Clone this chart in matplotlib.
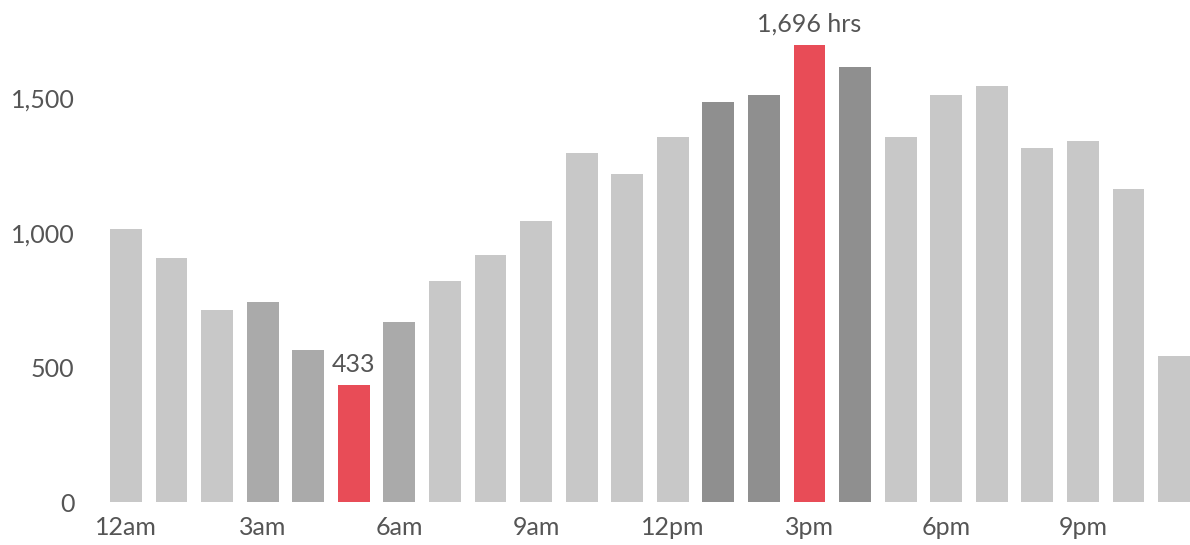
import numpy as np
import matplotlib.pyplot as plt

plt.rcParams['font.family'] = ['Lato', 'DejaVu Sans']

hours = list(range(24))
hrs = [1013, 906, 713, 742, 564, 433, 668, 820, 917, 1043, 1295, 1217,
       1354, 1487, 1510, 1696, 1614, 1354, 1513, 1543, 1313, 1339, 1161, 543]
tick_pos = [0, 3, 6, 9, 12, 15, 18, 21]
tick_labels = ['12am', '3am', '6am', '9am', '12pm', '3pm', '6pm', '9pm']

light = '#c8c8c8'
mid = '#aaaaaa'
dark = '#8f8f8f'
red = '#e84c57'
colors = [light] * 24
for i in (3, 4, 6):
    colors[i] = mid
for i in (13, 14, 16):
    colors[i] = dark
colors[5] = red
colors[15] = red

fig = plt.figure(figsize=(11.9, 5.45), dpi=100)
ax = fig.add_axes([94 / 1190, 1 - 502 / 545, (1190 - 94) / 1190, 471.3 / 545])
ax.bar(hours, hrs, width=0.7, color=colors)
ax.set_xlim(-0.7, 23.35)
ax.set_ylim(0, 1750)
ax.set_yticks([0, 500, 1000, 1500])
ax.set_yticklabels(['0', '500', '1,000', '1,500'])
ax.set_xticks(tick_pos)
ax.set_xticklabels(tick_labels)
ax.tick_params(axis='both', length=0, labelsize=18, colors='#555555', width=0)
ax.tick_params(axis='y', pad=14)
ax.tick_params(axis='x', pad=10)
for s in ax.spines.values():
    s.set_visible(False)

ax.annotate('433', (5, hrs[5]), xytext=(0, 7), textcoords='offset points',
            ha='center', va='bottom', fontsize=18, color='#555555')
ax.annotate('1,696 hrs', (15, hrs[15]), xytext=(0, 7), textcoords='offset points',
            ha='center', va='bottom', fontsize=18, color='#555555')

plt.savefig('out.png', dpi=100)
